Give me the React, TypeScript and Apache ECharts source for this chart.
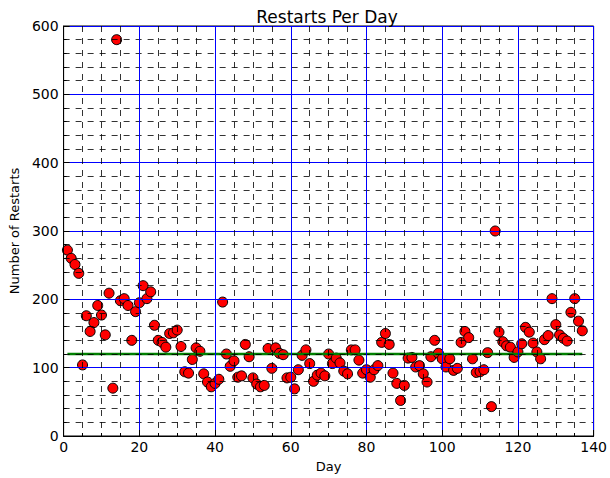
import React, { useEffect, useRef } from "react";
import * as echarts from "echarts";

const restarts: number[] = [
  272, 260, 251, 238, 104, 176, 153, 166, 191, 177,
  148, 209, 70, 580, 198, 201, 191, 140, 182, 195,
  220, 201, 211, 162, 140, 137, 130, 150, 151, 155,
  131, 94, 92, 112, 129, 124, 91, 79, 72, 77,
  83, 196, 120, 102, 110, 86, 88, 134, 116, 85,
  76, 72, 74, 128, 99, 129, 121, 119, 85, 86,
  69, 97, 118, 126, 106, 80, 89, 92, 88, 120,
  106, 114, 107, 95, 91, 126, 126, 111, 92, 97,
  86, 97, 103, 137, 150, 134, 92, 77, 52, 74,
  114, 115, 101, 103, 91, 79, 116, 140, 121, 113,
  101, 113, 96, 99, 137, 153, 144, 113, 93, 94,
  97, 122, 43, 300, 152, 138, 132, 130, 115, 123,
  135, 159, 152, 136, 123, 113, 141, 147, 201, 163,
  148, 143, 139, 181, 201, 168, 154,
];
const firstDay = 1;
const levelLine: [number, number][] = [
  [1, 120],
  [137, 120],
];
const xTicks = { min: 0, max: 140, interval: 20 };
const yTicks = { min: 0, max: 600, interval: 100 };

const FONT = "DejaVu Sans";

export default function App() {
  const ref = useRef<HTMLDivElement>(null);
  useEffect(() => {
    if (!ref.current) return;
    const chart = echarts.init(ref.current, undefined, { renderer: "svg" });
    const points = restarts.map((v, i) => [firstDay + i, v]);
    const minorDash = { color: "#000", width: 1, type: [6, 6] as number[], opacity: 0.8 };
    const majorGrid = { show: true, lineStyle: { color: "#0000ff", width: 1 } };
    const baseAxisLine = { show: true, onZero: false, lineStyle: { color: "#000", width: 1 } };
    chart.setOption({
      animation: false,
      backgroundColor: "#fff",
      title: {
        text: "Restarts Per Day",
        left: 322,
        textAlign: "center",
        top: 3,
        textStyle: { fontFamily: FONT, fontSize: 17, fontWeight: "normal", color: "#000" },
      },
      grid: {
        left: 60,
        right: 15,
        top: 26,
        bottom: 38,
        containLabel: false,
        show: true,
        borderColor: "#000",
        borderWidth: 1,
        backgroundColor: "transparent",
      },
      xAxis: {
        type: "value",
        z: 5,
        min: xTicks.min,
        max: xTicks.max,
        interval: xTicks.interval,
        name: "Day",
        nameLocation: "middle",
        nameGap: 24,
        nameTextStyle: { fontFamily: FONT, fontSize: 13, color: "#000" },
        axisLine: baseAxisLine,
        axisTick: { show: true, inside: true, length: 6, lineStyle: { color: "#000" } },
        minorTick: { show: true, splitNumber: 4, length: 3, lineStyle: { color: "#000" } },
        axisLabel: { fontFamily: FONT, fontSize: 14, color: "#000", margin: 4 },
        splitLine: majorGrid,
        minorSplitLine: { show: true, lineStyle: minorDash },
      },
      yAxis: {
        type: "value",
        z: 5,
        min: yTicks.min,
        max: yTicks.max,
        interval: yTicks.interval,
        name: "Number of Restarts",
        nameLocation: "middle",
        nameGap: 32,
        nameTextStyle: { fontFamily: FONT, fontSize: 13, color: "#000" },
        axisLine: baseAxisLine,
        axisTick: { show: true, inside: true, length: 6, lineStyle: { color: "#000" } },
        minorTick: { show: true, splitNumber: 5, length: 3, lineStyle: { color: "#000" } },
        axisLabel: { fontFamily: FONT, fontSize: 14, color: "#000", margin: 5 },
        splitLine: majorGrid,
        minorSplitLine: { show: true, lineStyle: minorDash },
      },
      series: [
        {
          type: "scatter",
          data: points,
          symbol: "circle",
          symbolSize: 10,
          itemStyle: { color: "#ff0000", borderColor: "#000", borderWidth: 1, opacity: 1 },
          z: 2,
        },
        {
          type: "line",
          data: levelLine,
          showSymbol: false,
          symbol: "none",
          lineStyle: { color: "#008000", width: 2.5 },
          z: 3,
        },
      ],
    });
    return () => chart.dispose();
  }, []);
  return (
    <div
      ref={ref}
      style={{ position: "fixed", left: 0, top: 0, width: 610, height: 478, background: "#fff" }}
    />
  );
}
